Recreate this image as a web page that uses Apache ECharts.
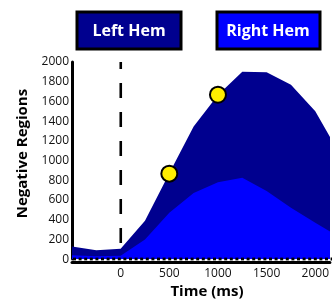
<!DOCTYPE html>
<html>
<head>
<meta charset="utf-8">
<script src="https://cdn.jsdelivr.net/npm/echarts@6/dist/echarts.min.js"></script>
<style>
html,body{margin:0;padding:0;background:#fff;}
#chart{width:332px;height:304px;}
</style>
</head>
<body>
<div id="chart"></div>
<script>
// time points (ms) where the curves were sampled
var times = [-500, -250, 0, 250, 500, 750, 1000, 1250, 1500, 1750, 2000, 2250];
// upper outline (dark, left hem on top)
var leftHemTop = [127, 90, 105, 390, 870, 1345, 1665, 1900, 1895, 1770, 1500, 1070];
// lower area (bright blue, right hem)
var rightHem = [40, 30, 35, 200, 470, 670, 780, 825, 690, 520, 370, 220];
// yellow markers [time, value]
var markTimes = [500, 1000];
var markValues = [867, 1668];
// stimulus onset line and zero baseline
var onsetTime = 0;
var yRange = [0, 2000];
var baseline = 0;

var FONT = 'Open Sans';
var DARK = '#00008f';
var LIGHT = '#0000ff';

function pairs(xs, ys){
	var out = [];
	for(var i = 0; i < xs.length; i ++){
		out.push([xs[i], ys[i]]);
	}
	return out;
}

// 竖直虚线：画成一段段的小矩形
function renderOnset(params, api){
	var top = api.coord([api.value(0), yRange[1]]);
	var bot = api.coord([api.value(0), yRange[0]]);
	var kids = [];
	for(var y = top[1] - 8; y < bot[1]; y += 29){
		var y0 = Math.max(y, top[1]);
		var y1 = Math.min(y + 15, bot[1]);
		if(y1 > y0){
			kids.push({type: 'rect', shape: {x: top[0] - 1.2, y: y0, width: 2.6, height: y1 - y0}, style: {fill: '#000'}});
		}
	}
	return {type: 'group', children: kids};
}

// 零线上的点线
function renderBaseline(params, api){
	var a = api.coord([times[0], api.value(0)]);
	var size = api.getWidth();
	var kids = [];
	for(var x = params.coordSys.x + 1; x < size; x += 5.6){
		kids.push({type: 'rect', shape: {x: x, y: a[1] - 1.5, width: 3, height: 2.8}, style: {fill: '#000'}});
	}
	return {type: 'group', children: kids};
}

var chart = echarts.init(document.getElementById('chart'), null, {renderer:'canvas'});
var option = {
	animation: false,
	backgroundColor: '#fff',
	grid: {left: 72, right: 0, top: 62, bottom: 43},
	xAxis: {
		type: 'value',
		min: -500, max: 2150, interval: 500,
		offset: 3,
		name: 'Time (ms)',
		nameLocation: 'middle',
		nameGap: 18,
		nameTextStyle: {fontFamily: FONT, fontSize: 15, fontWeight: 'bold', color: '#000', padding: [0,0,0,12]},
		axisLine: {onZero: false, lineStyle: {color: '#000', width: 3}},
		axisTick: {show: false},
		splitLine: {show: false},
		axisLabel: {
			fontFamily: FONT, fontSize: 12, color: '#111', margin: 5,
			showMinLabel: false, showMaxLabel: false,
			formatter: function(v){ return v < 0 ? '' : String(v); }
		}
	},
	yAxis: {
		type: 'value',
		min: 0, max: 2000, interval: 200,
		name: 'Negative Regions',
		nameLocation: 'middle',
		nameGap: 42,
		nameTextStyle: {fontFamily: FONT, fontSize: 15, fontWeight: 'bold', color: '#000', padding: [0,0,0,14]},
		axisLine: {show: true, onZero: false, lineStyle: {color: '#000', width: 3}},
		axisTick: {show: false},
		splitLine: {show: false},
		axisLabel: {fontFamily: FONT, fontSize: 12, color: '#111', margin: 3, formatter: function(v){ return String(v); }}
	},
	series: [
		{
			type: 'custom',
			data: [[onsetTime]],
			renderItem: renderOnset,
			silent: true,
			z: 0
		},
		{
			name: 'Left Hem',
			type: 'line',
			data: pairs(times, leftHemTop),
			symbol: 'none',
			lineStyle: {width: 0},
			areaStyle: {color: DARK, opacity: 1},
			z: 1
		},
		{
			name: 'Right Hem',
			type: 'line',
			data: pairs(times, rightHem),
			symbol: 'none',
			lineStyle: {width: 0},
			areaStyle: {color: LIGHT, opacity: 1},
			z: 2
		},
		{
			type: 'custom',
			data: [[baseline]],
			renderItem: renderBaseline,
			silent: true,
			clip: false,
			z: 3
		},
		{
			type: 'scatter',
			data: pairs(markTimes, markValues),
			symbolSize: 16,
			itemStyle: {color: '#ffee00', borderColor: '#000', borderWidth: 2, opacity: 1},
			z: 7
		}
	],
	graphic: [
		{type: 'rect', shape: {x: 77, y: 12, width: 104, height: 37}, style: {fill: DARK, stroke: '#000', lineWidth: 3}},
		{type: 'text', x: 129, y: 31, style: {text: 'Left Hem', fill: '#fff', font: 'bold 16px "Open Sans"', textAlign: 'center', textVerticalAlign: 'middle'}},
		{type: 'rect', shape: {x: 217, y: 12, width: 103, height: 37}, style: {fill: LIGHT, stroke: '#000', lineWidth: 3}},
		{type: 'text', x: 268, y: 31, style: {text: 'Right Hem', fill: '#fff', font: 'bold 16px "Open Sans"', textAlign: 'center', textVerticalAlign: 'middle'}}
	]
};
chart.setOption(option);
</script>
</body>
</html>
